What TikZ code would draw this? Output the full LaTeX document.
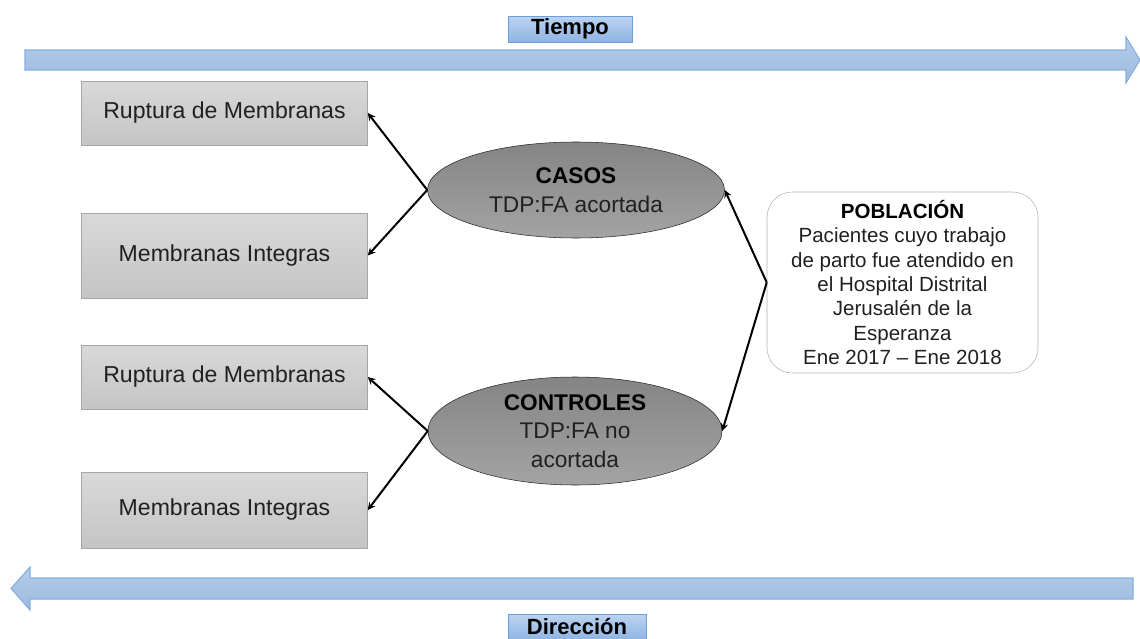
\documentclass[tikz,border=0pt]{standalone}
\usepackage{fontspec}
\setmainfont{Liberation Sans}
\usepackage{tikz}
\usetikzlibrary{arrows}
\usetikzlibrary{shapes.geometric}

\definecolor{flecha}{HTML}{A6C3E8}
\definecolor{flechaborde}{HTML}{86AEE0}
\definecolor{etiqarriba}{HTML}{BCD3F1}
\definecolor{etiqabajo}{HTML}{8FB4E3}
\definecolor{etiqborde}{HTML}{6C9CDA}
\definecolor{texto}{HTML}{202020}

\begin{document}
\begin{tikzpicture}[x=0.75pt, y=-0.75pt, >=stealth,
                    caja/.style={draw=black!35, top color=black!15, bottom color=black!23,
                                 minimum width=214.5pt, inner sep=0pt, text=texto,
                                 font=\fontsize{17.3}{20}\selectfont},
                    grupo/.style={ellipse, draw=black!85, top color=black!48, bottom color=black!36,
                                  inner sep=0pt, align=center, text=texto,
                                  font=\fontsize{17}{21.5}\selectfont},
                    etiqueta/.style={draw=etiqborde, top color=etiqarriba, bottom color=etiqabajo,
                                     inner sep=0pt, font=\bfseries\fontsize{16.5}{18}\selectfont},
                    flechagrande/.style={draw=flechaborde, line width=0.8pt,
                                         top color=flecha!85!white, bottom color=flecha!95!black},
                    every edge/.style={draw, line width=1.5pt}]
\useasboundingbox (0,0) rectangle (1140,639);

% ejes de tiempo y direccion
\draw[flechagrande] (25,50) -- (1126,50) -- (1126,37) -- (1140,60) -- (1126,83) -- (1126,70) -- (25,70) -- cycle;
\draw[flechagrande] (1133,578) -- (30,578) -- (30,567) -- (11,588.5) -- (30,610) -- (30,599) -- (1133,599) -- cycle;
\node[etiqueta, minimum width=93pt, minimum height=19.5pt] (tiempo) at (570,29) {Tiempo};
\node[etiqueta, minimum width=103.5pt, minimum height=18.75pt] (direccion) at (577,627) {Dirección};

% cajas de resultado
\node[caja, minimum height=48pt] (rup1) at (224.5,113) {Ruptura de Membranas};
\node[caja, minimum height=63.75pt] (int1) at (224.5,255.5) {Membranas Integras};
\node[caja, minimum height=48pt] (rup2) at (224.5,377) {Ruptura de Membranas};
\node[caja, minimum height=57pt] (int2) at (224.5,510) {Membranas Integras};

% grupos
\node[grupo, minimum width=222.75pt, minimum height=72pt] (casos) at (576,190)
     {\textbf{\color{black}CASOS}\\TDP:FA acortada};
\node[grupo, minimum width=220.5pt, minimum height=81pt] (controles) at (575,431)
     {\textbf{\color{black}CONTROLES}\\TDP:FA no\\acortada};

% poblacion
\node[draw=black!30, rounded corners=19pt, minimum width=203.25pt, minimum height=135.75pt,
      inner sep=0pt, align=center, text=texto, font=\fontsize{15.4}{18.2}\selectfont]
     (poblacion) at (902.5,282.5)
     {\textbf{\color{black}POBLACIÓN}\\Pacientes cuyo trabajo\\de parto fue atendido en\\el Hospital Distrital\\Jerusalén de la\\Esperanza\\Ene 2017 – Ene 2018};

\path[->]
(casos.west) edge (rup1.east)
(casos.west) edge (int1.east)
(controles.west) edge (rup2.east)
(controles.west) edge (int2.east)
(poblacion.west) edge (casos.east)
(poblacion.west) edge (controles.east);
\end{tikzpicture}
\end{document}
